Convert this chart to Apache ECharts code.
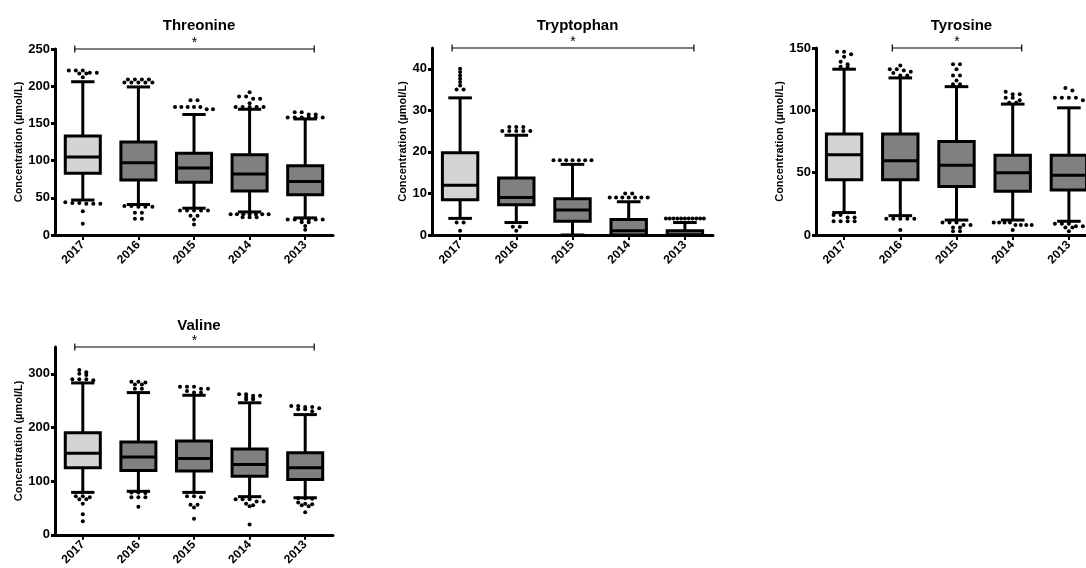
<!DOCTYPE html>
<html><head><meta charset="utf-8">
<script src="https://cdn.jsdelivr.net/npm/echarts@6/dist/echarts.min.js"></script>
<style>html,body{margin:0;padding:0;background:#fff;overflow:hidden}#c{width:1100px;height:568px}</style>
</head><body><div id="c"></div>
<script>
const categories = ['2017', '2016', '2015', '2014', '2013'];
const yAxisName = 'Concentration (µmol/L)';

// each entry: [lower whisker, Q1, median, Q3, upper whisker]
const threonineBox = [[47, 83, 105, 133, 206], [41, 74, 97, 125, 199], [36, 71, 90, 110, 162], [31, 59, 82, 108, 169], [23, 54, 72, 93, 156]];
const threonineOutliers = [
  [221, 221, 221, 218, 218, 217, 217, 212, 44, 43, 43, 42, 42, 42, 32, 15],
  [209, 209, 209, 209, 205, 205, 205, 205, 205, 39, 39, 38, 38, 38, 30, 30, 22, 22],
  [181, 181, 172, 172, 172, 172, 172, 169, 169, 33, 33, 33, 33, 33, 26, 26, 21, 14],
  [192, 186, 186, 183, 183, 177, 172, 172, 172, 172, 172, 28, 28, 28, 28, 28, 28, 28, 24, 24, 24],
  [165, 165, 162, 162, 158, 158, 158, 158, 158, 158, 21, 21, 21, 21, 21, 21, 17, 17, 12, 7]
];
const threonineTicks = [0, 50, 100, 150, 200, 250];

const tryptophanBox = [[4, 8.5, 12, 19.8, 33], [3, 7.3, 9, 13.7, 24], [0, 3.3, 6, 8.7, 17], [0, 0, 1, 3.7, 8], [0, 0, 0, 1, 3]];
const tryptophanOutliers = [
  [40, 39.2, 38.4, 37.6, 36.8, 36, 35, 35, 3, 3, 1],
  [26, 26, 26, 25, 25, 25, 25, 25, 2, 2, 1],
  [18, 18, 18, 18, 18, 18, 18],
  [10, 10, 9, 9, 9, 9, 9, 9, 9],
  [4, 4, 4, 4, 4, 4, 4, 4, 4, 4, 4]
];
const tryptophanTicks = [0, 10, 20, 30, 40];

const tyrosineBox = [[18, 44.4, 64.4, 81, 133], [15.5, 44.4, 59.6, 81, 126], [12, 39, 56, 75, 119], [12, 35, 50, 64, 105], [11, 36, 48, 64, 102]];
const tyrosineOutliers = [
  [147, 147, 145, 143, 139, 137, 135, 135, 16, 16, 14, 14, 11, 11, 11, 11],
  [136, 133, 133, 132, 131, 130, 128, 128, 13, 13, 13, 13, 13, 4],
  [137, 137, 133, 128, 128, 124, 121, 121, 10, 10, 10, 8, 8, 6, 6, 3, 3],
  [115, 113, 113, 110, 110, 108, 106, 106, 10, 10, 10, 10, 8, 8, 8, 8, 4],
  [118, 116, 110, 110, 110, 110, 108, 9, 9, 9, 7, 7, 6, 6, 3]
];
const tyrosineTicks = [0, 50, 100, 150];

const valineBox = [[79, 125, 152, 190, 283], [81, 120, 145, 173, 265], [79, 119, 142, 175, 260], [71, 109, 131, 160, 246], [69, 103, 125, 153, 224]];
const valineOutliers = [
  [307, 303, 300, 298, 290, 290, 290, 288, 72, 72, 70, 66, 66, 58, 38, 25],
  [285, 285, 284, 280, 280, 272, 272, 79, 79, 78, 70, 70, 70, 52],
  [276, 276, 276, 272, 272, 268, 265, 265, 72, 72, 70, 56, 56, 51, 30],
  [262, 262, 259, 259, 257, 255, 252, 252, 66, 66, 66, 62, 62, 58, 55, 53, 19],
  [240, 240, 238, 238, 236, 234, 234, 230, 68, 68, 67, 60, 58, 57, 55, 53, 42]
];
const valineTicks = [0, 100, 200, 300];

const panels = [
  { name: 'Threonine', box: threonineBox, out: threonineOutliers, ticks: threonineTicks, max: 250, sig: ['2017', '2013'], grid: { left: 55, top: 49, width: 278, height: 186 }, titleTop: 13, nameGap: 29 },
  { name: 'Tryptophan', box: tryptophanBox, out: tryptophanOutliers, ticks: tryptophanTicks, max: 45, sig: ['2017', '2013'], grid: { left: 432, top: 48, width: 281, height: 187 }, titleTop: 13, nameGap: 19 },
  { name: 'Tyrosine', box: tyrosineBox, out: tyrosineOutliers, ticks: tyrosineTicks, max: 150, sig: ['2016', '2014'], grid: { left: 816, top: 48, width: 281, height: 187 }, titleTop: 13, nameGap: 26 },
  { name: 'Valine', box: valineBox, out: valineOutliers, ticks: valineTicks, max: 350, sig: ['2017', '2013'], grid: { left: 55, top: 347, width: 278, height: 188 }, titleTop: 313, nameGap: 29 }
];

const FONT = "'Liberation Sans', Arial, sans-serif";
const LIGHT = '#d4d4d4', DARK = '#808080';

function boxRender(params, api) {
  const k = api.value(0);
  const band = api.size([1, 0])[0];
  const bw = band * 0.63, cw = band * 0.42;
  const x = api.coord([k, 0])[0];
  const yLo = api.coord([k, api.value(1)])[1];
  const yQ1 = api.coord([k, api.value(2)])[1];
  const yMed = api.coord([k, api.value(3)])[1];
  const yQ3 = api.coord([k, api.value(4)])[1];
  const yHi = api.coord([k, api.value(5)])[1];
  const ls = { stroke: '#000', lineWidth: 3 };
  return {
    type: 'group',
    children: [
      { type: 'line', shape: { x1: x, y1: yHi, x2: x, y2: yQ3 }, style: ls },
      { type: 'line', shape: { x1: x, y1: yQ1, x2: x, y2: yLo }, style: ls },
      { type: 'line', shape: { x1: x - cw / 2, y1: yHi, x2: x + cw / 2, y2: yHi }, style: ls },
      { type: 'line', shape: { x1: x - cw / 2, y1: yLo, x2: x + cw / 2, y2: yLo }, style: ls },
      { type: 'rect', shape: { x: x - bw / 2, y: yQ3, width: bw, height: Math.max(yQ1 - yQ3, 0.5) }, style: { fill: k === 0 ? LIGHT : DARK, stroke: '#000', lineWidth: 3 } },
      { type: 'line', shape: { x1: x - bw / 2, y1: yMed, x2: x + bw / 2, y2: yMed }, style: ls }
    ]
  };
}

function makeOutRender(p) {
  return function (params, api) {
    const k = params.dataIndex;
    const x = api.coord([k, 0])[0];
    const pts = p.out[k].map(v => api.coord([k, v])[1]).sort((a, b) => a - b);
    const clusters = [];
    pts.forEach(py => {
      const c = clusters[clusters.length - 1];
      if (c && Math.abs(py - c[0]) <= 2.5) c.push(py); else clusters.push([py]);
    });
    const children = [];
    clusters.forEach(c => {
      const n = c.length;
      const sp = n > 1 ? Math.min(7, 38 / (n - 1)) : 0;
      c.forEach((py, j) => {
        children.push({ type: 'circle', shape: { cx: x + (j - (n - 1) / 2) * sp, cy: py, r: 2 }, style: { fill: '#000' } });
      });
    });
    return { type: 'group', children };
  };
}

function bracketRender(params, api) {
  const a = api.coord([api.value(0), api.value(2)]);
  const b = api.coord([api.value(1), api.value(2)]);
  const x1 = a[0] - 8, x2 = b[0] + 9, y = a[1];
  const ls = { stroke: '#000', lineWidth: 1.2 };
  return {
    type: 'group',
    children: [
      { type: 'line', shape: { x1, y1: y, x2, y2: y }, style: ls },
      { type: 'line', shape: { x1, y1: y - 3.5, x2: x1, y2: y + 3.5 }, style: ls },
      { type: 'line', shape: { x1: x2, y1: y - 3.5, x2, y2: y + 3.5 }, style: ls },
      { type: 'text', x: (x1 + x2) / 2, y: y + 1, style: { text: '*', fill: '#000', font: '14px ' + FONT, textAlign: 'center', textVerticalAlign: 'bottom' } }
    ]
  };
}

const option = {
  animation: false,
  backgroundColor: '#fff',
  title: panels.map(p => ({
    text: p.name, left: p.grid.left + p.grid.width / 2, top: p.titleTop, textAlign: 'center',
    textStyle: { fontFamily: FONT, fontWeight: 'bold', fontSize: 15, color: '#000' }
  })),
  grid: panels.map(p => Object.assign({}, p.grid)),
  xAxis: panels.map((p, i) => ({
    type: 'category', gridIndex: i, data: categories, boundaryGap: true,
    axisLine: { lineStyle: { color: '#000', width: 3 } },
    axisTick: { show: true, alignWithLabel: true, length: 5, lineStyle: { color: '#000', width: 2 } },
    axisLabel: { rotate: 45, color: '#000', fontWeight: 'bold', fontSize: 12, fontFamily: FONT, margin: 8, interval: 0 },
    splitLine: { show: false }
  })),
  yAxis: panels.map((p, i) => ({
    type: 'value', gridIndex: i, min: 0, max: p.max,
    name: yAxisName, nameLocation: 'middle', nameGap: p.nameGap,
    nameTextStyle: { fontFamily: FONT, fontWeight: 'bold', fontSize: 11, color: '#000' },
    axisLine: { show: true, lineStyle: { color: '#000', width: 3 } },
    axisTick: { show: true, length: 4, lineStyle: { color: '#000', width: 3 }, customValues: p.ticks },
    axisLabel: { customValues: p.ticks, color: '#000', fontWeight: 'bold', fontSize: 13, fontFamily: FONT, margin: 5 },
    splitLine: { show: false }
  })),
  series: []
};

panels.forEach((p, i) => {
  option.series.push({
    type: 'custom', name: p.name + ' box', xAxisIndex: i, yAxisIndex: i,
    data: p.box.map((b, k) => [k].concat(b)),
    encode: { x: 0, y: [1, 2, 3, 4, 5] },
    renderItem: boxRender, z: 3
  });
  option.series.push({
    type: 'custom', name: p.name + ' outliers', xAxisIndex: i, yAxisIndex: i,
    data: p.out.map((o, k) => [k, Math.max.apply(null, o)]),
    encode: { x: 0, y: 1 },
    renderItem: makeOutRender(p), z: 4
  });
  option.series.push({
    type: 'custom', name: p.name + ' sig', xAxisIndex: i, yAxisIndex: i,
    data: [[categories.indexOf(p.sig[0]), categories.indexOf(p.sig[1]), p.max]],
    encode: { x: [0, 1], y: 2 },
    renderItem: bracketRender, z: 5
  });
});

const chart = echarts.init(document.getElementById('c'), null, { renderer: 'canvas' });
chart.setOption(option);
</script>
</body></html>
